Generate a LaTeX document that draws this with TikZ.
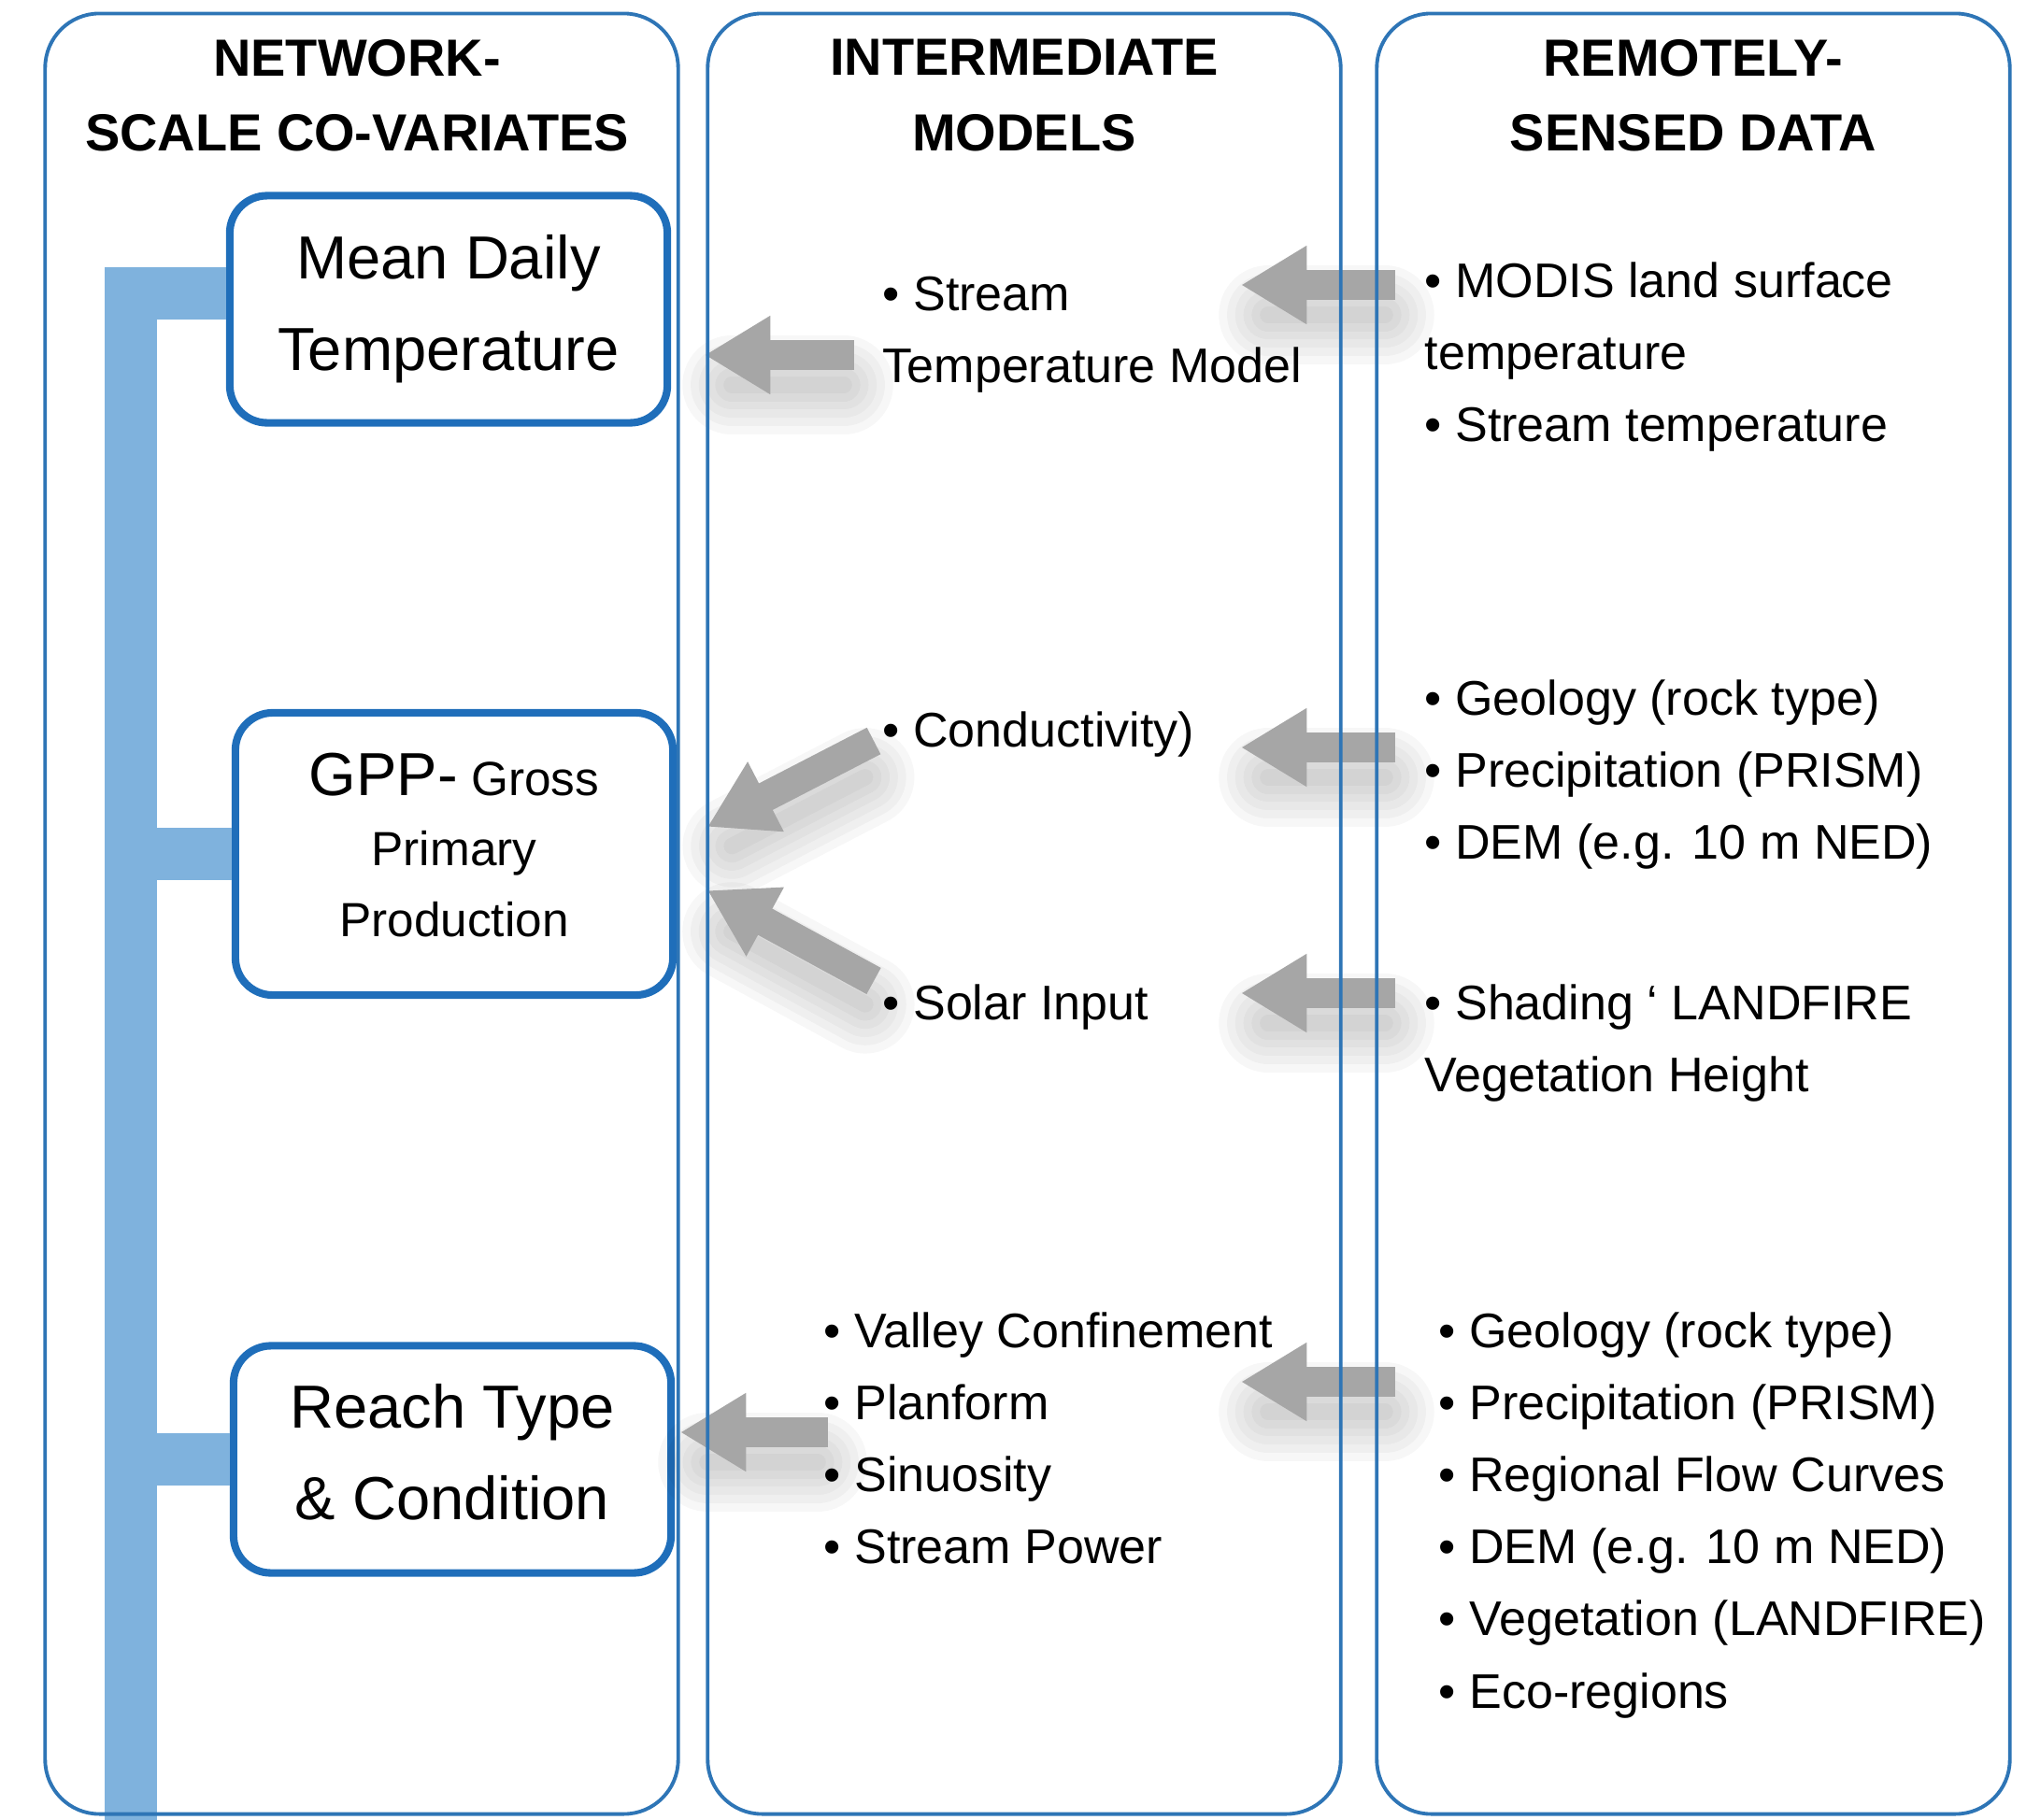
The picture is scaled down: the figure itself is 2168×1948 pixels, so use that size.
\documentclass[tikz,border=0pt]{standalone}
\usepackage{fontspec}
\setmainfont{Liberation Sans}
\usepackage{tikz}
\usetikzlibrary{positioning,arrows.meta,calc}
\definecolor{panelblue}{RGB}{46,117,182}
\definecolor{boxblue}{RGB}{31,110,186}
\definecolor{trunkblue}{RGB}{127,178,221}
\definecolor{arrowgray}{RGB}{166,166,166}
\tikzset{
  grayarrow/.style={-{Triangle[length=20pt,width=22.5pt]}, line width=9.1pt, draw=arrowgray},
  haze/.style={draw=black, opacity=0.03, line cap=round, shorten <=0.15cm, shorten >=0.25cm}
}
% block arrow with a soft shadow under it
\newcommand{\blockarrow}[2]{%
  \begin{scope}[transform canvas={xshift=0.04cm,yshift=-0.32cm}]
    \foreach \w in {5pt,10pt,15pt,20pt,25pt,30pt}
      \draw[haze, line width=\w] (#1) -- (#2);
  \end{scope}
  \draw[grayarrow] (#1) -- (#2);
}

\begin{document}
\begin{tikzpicture}[
  x=0.01cm, y=-0.01cm,
  panel/.style={draw=panelblue, line width=1.1pt, rounded corners=0.58cm, minimum width=6.77cm, minimum height=19.26cm, inner sep=0},
  covbox/.style={draw=boxblue, line width=2.3pt, rounded corners=0.4cm, fill=white, minimum width=4.68cm, minimum height=2.43cm, align=center, inner sep=0, font=\fontsize{18.5}{27.8}\selectfont},
  head/.style={align=center, inner sep=0, font=\bfseries\fontsize{15.9}{22.8}\selectfont},
  note/.style={anchor=west, align=left, inner sep=0, font=\fontsize{14.8}{21.9}\selectfont},
  trunk/.style={draw=trunkblue, line width=15.9pt}
]
\useasboundingbox (0,0) rectangle (2168,1948);

% co-variate boxes
\node[covbox] (mdt) at (480,331) {Mean Daily\\Temperature};
\node[covbox, minimum height=3.02cm, text depth=0.2cm, font=\fontsize{14.6}{21.5}\selectfont] (gpp) at (486,914)
  {{\fontsize{18.5}{21.5}\selectfont GPP-} Gross\\Primary\\Production};
\node[covbox, text depth=0.16cm] (rtc) at (484,1562) {Reach Type\\\& Condition};

% trunk
\coordinate (ttop) at (140,314);
\coordinate (tbot) at (140,1948);
\draw[trunk] (mdt.west |- ttop) -| (tbot);
\draw[trunk] (tbot |- gpp.west) -- (gpp.west);
\draw[trunk] (tbot |- rtc.west) -- (rtc.west);

% arrows
\coordinate (a1s) at (914,380);   \coordinate (a1e) at (754,380);
\coordinate (a2s) at (1493,305);  \coordinate (a2e) at (1328,305);
\coordinate (a3s) at (1493,800);  \coordinate (a3e) at (1328,800);
\coordinate (a4s) at (1493,1063); \coordinate (a4e) at (1328,1063);
\coordinate (a5s) at (1493,1479); \coordinate (a5e) at (1328,1479);
\coordinate (a6s) at (886,1533);  \coordinate (a6e) at (728,1533);
\coordinate (a7s) at (935,793);   \coordinate (a7e) at (757,885);
\coordinate (a8s) at (935,1050);  \coordinate (a8e) at (757,953);
\blockarrow{a1s}{a1e}
\blockarrow{a2s}{a2e}
\blockarrow{a3s}{a3e}
\blockarrow{a4s}{a4e}
\blockarrow{a5s}{a5e}
\blockarrow{a6s}{a6e}
\blockarrow{a7s}{a7e}
\blockarrow{a8s}{a8e}

% columns
\node[panel] (pnet) at (387,978) {};
\node[panel] (pint) at (1096,978) {};
\node[panel] (prem) at (1812,978) {};

\node[head] (hnet) at (382,102) {NETWORK-\\SCALE CO-VARIATES};
\node[head] (hint) at (1096,102) {INTERMEDIATE\\MODELS};
\node[head] (hrem) at (1812,102) {REMOTELY-\\SENSED DATA};

% intermediate models
\node[note] (stm) at (944,358) {• Stream\\Temperature Model};
\node[note] (cnd) at (944,786) {• Conductivity)};
\node[note] (sol) at (944,1078) {• Solar Input};
\node[note] (vly) at (881,1539) {• Valley Confinement\\• Planform\\• Sinuosity\\• Stream Power};

% remotely-sensed data
\node[note] (mod) at (1524,382) {• MODIS land surface\\temperature\\• Stream temperature};
\node[note] (geo) at (1524,829) {• Geology (rock type)\\• Precipitation (PRISM)\\• DEM (e.g. 10 m NED)};
\node[note] (shd) at (1524,1117) {• Shading ‘ LANDFIRE\\Vegetation Height};
\node[note] (eco) at (1539,1622) {• Geology (rock type)\\• Precipitation (PRISM)\\• Regional Flow Curves\\• DEM (e.g. 10 m NED)\\• Vegetation (LANDFIRE)\\• Eco-regions};
\end{tikzpicture}
\end{document}
